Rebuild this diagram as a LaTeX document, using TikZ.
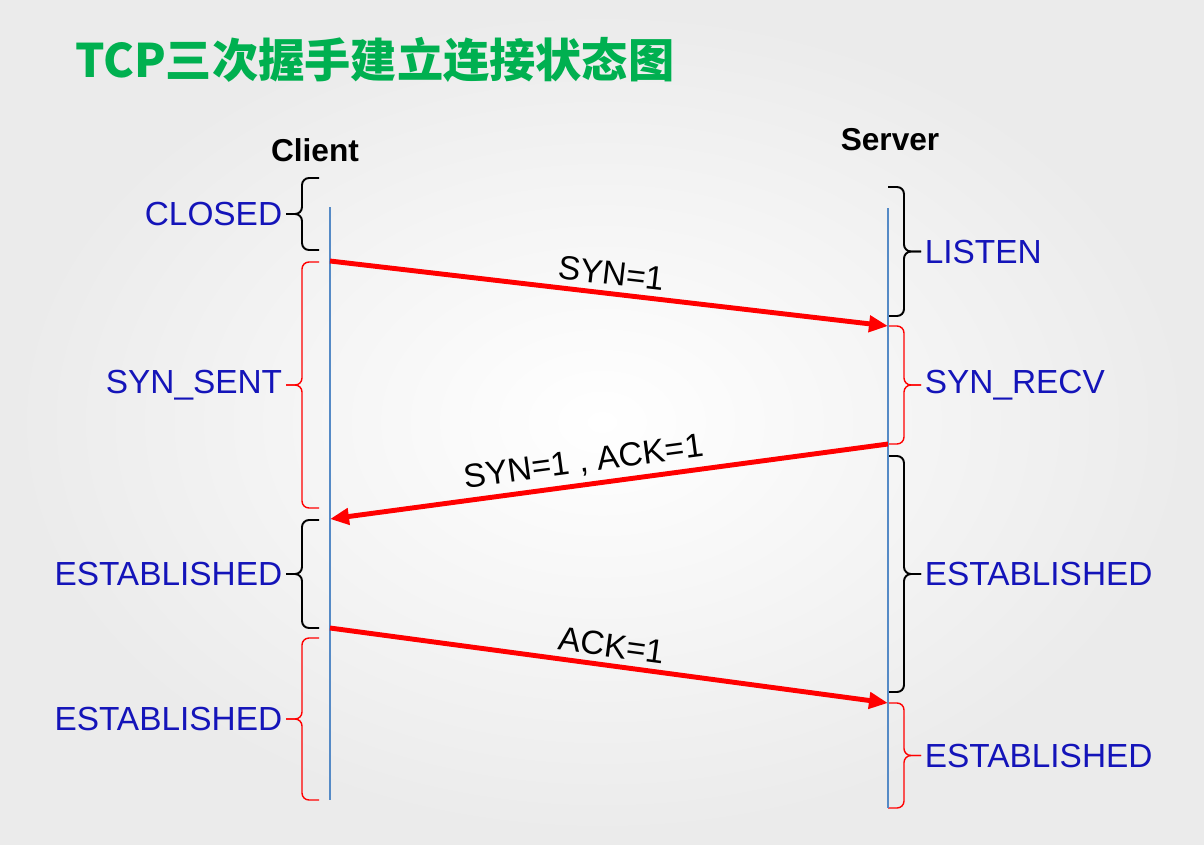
\documentclass[tikz,border=0pt]{standalone}
\usepackage{fontspec}
\setmainfont{Liberation Sans}
\newfontfamily\cjk{Noto Sans CJK SC}
\usetikzlibrary{arrows.meta}
\definecolor{titlegreen}{RGB}{0,176,80}
\definecolor{statecol}{RGB}{20,20,185}
\definecolor{lifecol}{RGB}{85,138,198}

\begin{document}
\begin{tikzpicture}[
    bracket/.style={rounded corners=.14cm},
    state/.style={text=statecol,font=\fontsize{19}{22}\selectfont,inner sep=2pt},
    msg/.style={red,line width=2.8pt,-{Triangle[length=.38cm,width=.32cm]}},
    msglabel/.style={font=\fontsize{19}{22}\selectfont,sloped,above}]
  \useasboundingbox (0,0) rectangle (24.08,-16.88);
  \shade[inner color=white,outer color=black!8] (0,0) rectangle (24.08,-16.88);

  \node[anchor=west,inner sep=0,text=titlegreen,font=\cjk\bfseries\fontsize{26.3}{30}\selectfont] (title) at (1.5,-1.2) {TCP三次握手建立连接状态图};
  \node[font=\bfseries\fontsize{18}{22}\selectfont] (client) at (6.3,-3.0) {Client};
  \node[font=\bfseries\fontsize{18}{22}\selectfont] (server) at (17.8,-2.8) {Server};

  % client side states
  \foreach \ya/\yb/\txt/\col/\lw [count=\i,evaluate=\ya as \ym using (\ya+\yb)/2] in
      {-3.56/-5.0/CLOSED/black/1.1pt, -5.24/-10.16/SYN\_SENT/red/.8pt,
       -10.4/-12.56/ESTABLISHED/black/1.1pt, -12.76/-16.0/ESTABLISHED/red/.8pt}
  {
    \draw[bracket,\col,line width=\lw] (6.38,\ya) -| (6.04,\ym) -- (5.72,\ym);
    \draw[bracket,\col,line width=\lw] (6.38,\yb) -| (6.04,\ym) -- (5.72,\ym);
    \node[state,left] (cstate\i) at (5.72,\ym) {\txt};
  }

  % server side states
  \foreach \ya/\yb/\txt/\col/\lw [count=\i,evaluate=\ya as \ym using (\ya+\yb)/2] in
      {-3.74/-6.32/LISTEN/black/1.1pt, -6.52/-8.88/SYN\_RECV/red/.8pt,
       -9.12/-13.84/ESTABLISHED/black/1.1pt, -14.06/-16.16/ESTABLISHED/red/.8pt}
  {
    \draw[bracket,\col,line width=\lw] (17.76,\ya) -| (18.08,\ym) -- (18.42,\ym);
    \draw[bracket,\col,line width=\lw] (17.76,\yb) -| (18.08,\ym) -- (18.42,\ym);
    \node[state,right] (sstate\i) at (18.42,\ym) {\txt};
  }

  % life lines
  \coordinate (ctop) at (6.6,-4.14);
  \coordinate (cbot) at (6.6,-16.0);
  \coordinate (stop) at (17.76,-4.16);
  \coordinate (sbot) at (17.76,-16.16);
  \draw[lifecol,line width=1.3pt] (ctop) -- (cbot);
  \draw[lifecol,line width=1.3pt] (stop) -- (sbot);

  % handshake
  \coordinate (c1) at (6.6,-5.22);
  \coordinate (s1) at (17.76,-6.52);
  \coordinate (s2) at (17.76,-8.88);
  \coordinate (c2) at (6.6,-10.38);
  \coordinate (c3) at (6.6,-12.56);
  \coordinate (s3) at (17.76,-14.06);
  \draw[msg] (c1) -- (s1) node[msglabel,black,midway] {SYN=1};
  \draw[msg] (s2) -- (c2) node[msglabel,black,pos=.54] {SYN=1 , ACK=1};
  \draw[msg] (c3) -- (s3) node[msglabel,black,midway] {ACK=1};
\end{tikzpicture}
\end{document}
